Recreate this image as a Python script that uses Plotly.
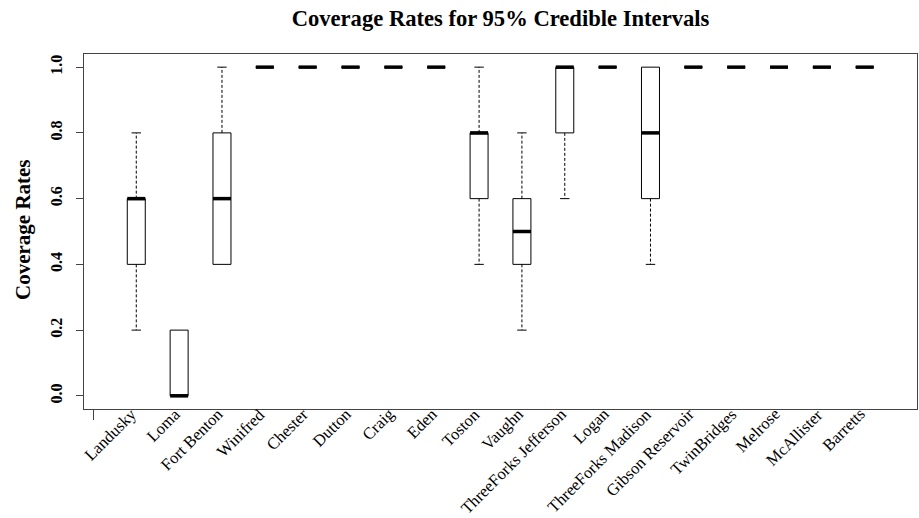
import plotly.graph_objects as go

categories = ["Landusky", "Loma", "Fort Benton", "Winifred", "Chester", "Dutton",
              "Craig", "Eden", "Toston", "Vaughn", "ThreeForks Jefferson", "Logan",
              "ThreeForks Madison", "Gibson Reservoir", "TwinBridges", "Melrose",
              "McAllister", "Barretts"]
mins    = [0.2, 0.0, 0.4, 1.0, 1.0, 1.0, 1.0, 1.0, 0.4, 0.2, 0.6, 1.0, 0.4, 1.0, 1.0, 1.0, 1.0, 1.0]
q1s     = [0.4, 0.0, 0.4, 1.0, 1.0, 1.0, 1.0, 1.0, 0.6, 0.4, 0.8, 1.0, 0.6, 1.0, 1.0, 1.0, 1.0, 1.0]
medians = [0.6, 0.0, 0.6, 1.0, 1.0, 1.0, 1.0, 1.0, 0.8, 0.5, 1.0, 1.0, 0.8, 1.0, 1.0, 1.0, 1.0, 1.0]
q3s     = [0.6, 0.2, 0.8, 1.0, 1.0, 1.0, 1.0, 1.0, 0.8, 0.6, 1.0, 1.0, 1.0, 1.0, 1.0, 1.0, 1.0, 1.0]
maxs    = [0.8, 0.2, 1.0, 1.0, 1.0, 1.0, 1.0, 1.0, 1.0, 0.8, 1.0, 1.0, 1.0, 1.0, 1.0, 1.0, 1.0, 1.0]
y_ticks = [0.0, 0.2, 0.4, 0.6, 0.8, 1.0]
y_tick_labels = ["0.0", "0.2", "0.4", "0.6", "0.8", "1.0"]

FONT = "Liberation Serif, Times New Roman, serif"
pos = list(range(1, len(categories) + 1))
BW = 0.42
HALF = BW / 2
CAP = 0.11

fig = go.Figure()

# dashed whiskers
wx, wy = [], []
cx, cy = [], []
for p, lo, a, b, hi in zip(pos, mins, q1s, q3s, maxs):
    if hi > b:
        wx += [p, p, None]; wy += [b, hi, None]
        cx += [p - CAP, p + CAP, None]; cy += [hi, hi, None]
    if lo < a:
        wx += [p, p, None]; wy += [a, lo, None]
        cx += [p - CAP, p + CAP, None]; cy += [lo, lo, None]
fig.add_trace(go.Scatter(x=wx, y=wy, mode="lines",
                         line=dict(color="black", width=1, dash="3px,2px"),
                         hoverinfo="skip", showlegend=False))
fig.add_trace(go.Scatter(x=cx, y=cy, mode="lines",
                         line=dict(color="black", width=1),
                         hoverinfo="skip", showlegend=False))

# boxes
fig.add_trace(go.Box(x=pos, q1=q1s, median=medians, q3=q3s,
                     lowerfence=q1s, upperfence=q3s,
                     width=BW, whiskerwidth=0,
                     fillcolor="white", line=dict(color="black", width=1),
                     boxpoints=False, showlegend=False, hoverinfo="skip"))

# thick medians
mx, my = [], []
for p, m in zip(pos, medians):
    mx += [p - HALF, p + HALF, None]; my += [m, m, None]
fig.add_trace(go.Scatter(x=mx, y=my, mode="lines",
                         line=dict(color="black", width=3.5),
                         hoverinfo="skip", showlegend=False))

annotations = []
for p, name in zip(pos, categories):
    annotations.append(dict(text=name, x=p + 0.17, xref="x", y=0, yref="paper",
                            xanchor="right", yanchor="top", yshift=7,
                            textangle=-45, showarrow=False,
                            font=dict(family=FONT, size=16.5, color="black")))
annotations.append(dict(text="<b>Coverage Rates</b>", x=(23 - 84) / 833, xref="paper",
                        y=(409 - 230) / 355, yref="paper", xanchor="center", yanchor="middle",
                        textangle=-90, showarrow=False,
                        font=dict(family=FONT, size=21, color="black")))

fig.update_layout(
    width=919, height=518,
    margin=dict(l=84, r=2, t=54, b=109),
    paper_bgcolor="white", plot_bgcolor="white",
    title=dict(text="<b>Coverage Rates for 95% Credible Intervals</b>",
               x=0.5, xref="paper", xanchor="center",
               y=1 - 18 / 518, yref="container", yanchor="middle",
               font=dict(family=FONT, size=22.6, color="black")),
    xaxis=dict(range=[-0.22, 19.22], showgrid=False, zeroline=False,
               showline=True, mirror=True, linecolor="#444", linewidth=1,
               tickvals=[0], ticktext=[""], ticks="outside", ticklen=10,
               tickcolor="#444"),
    yaxis=dict(range=[-0.04, 1.04], showgrid=False, zeroline=False,
               showline=True, mirror=True, linecolor="#444", linewidth=1,
               tickvals=y_ticks, ticktext=y_tick_labels, ticks="outside",
               ticklen=7, tickcolor="#444", tickangle=-90,
               ticklabelstandoff=8,
               tickfont=dict(family=FONT, size=16, color="black", weight="bold")),
    annotations=annotations,
)

fig.write_html("out.html",
               config={"displayModeBar": False},
               post_script="document.body.style.margin='0';document.body.style.padding='0';")
